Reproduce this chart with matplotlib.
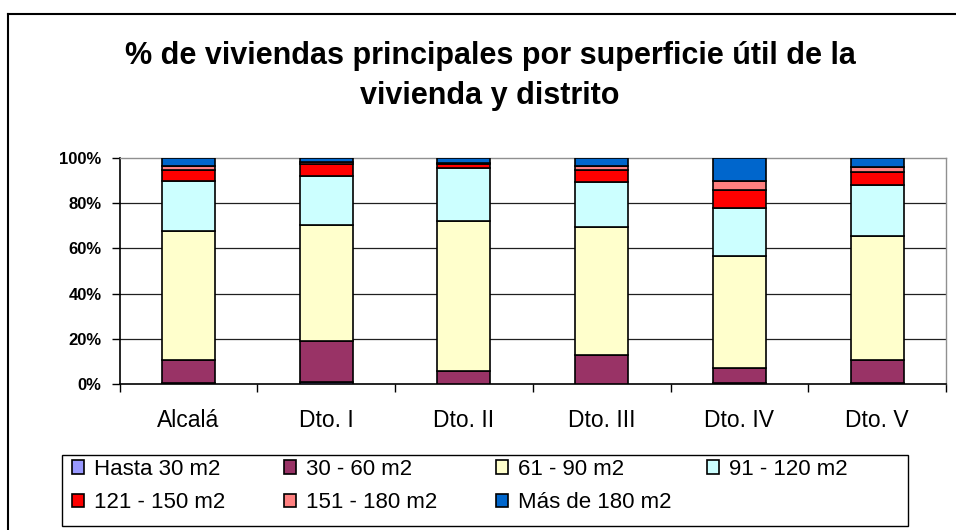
import matplotlib
matplotlib.use("Agg")
import matplotlib.pyplot as plt
from matplotlib.lines import Line2D
from matplotlib.patches import Rectangle
from matplotlib.ticker import FixedLocator, FuncFormatter
import numpy as np

plt.rcParams['font.family'] = ['Liberation Sans', 'DejaVu Sans']

categories = ["Alcalá", "Dto. I", "Dto. II", "Dto. III", "Dto. IV", "Dto. V"]
series_names = ["Hasta 30 m2", "30 - 60 m2", "61 - 90 m2", "91 - 120 m2",
                "121 - 150 m2", "151 - 180 m2", "Más de 180 m2"]
hasta_30 = [0.3, 1.0, 0.2, 0.2, 0.3, 0.3]
m30_60 = [10.5, 17.9, 5.7, 12.5, 6.8, 10.5]
m61_90 = [56.8, 51.6, 66.1, 56.8, 49.7, 54.5]
m91_120 = [22.1, 21.4, 23.6, 19.9, 21.1, 22.9]
m121_150 = [4.9, 5.4, 1.7, 5.4, 7.8, 5.6]
m151_180 = [1.8, 0.8, 0.5, 1.5, 4.3, 2.2]
mas_180 = [3.6, 1.9, 2.2, 3.7, 10.0, 4.0]
colors = ["#9999FF", "#993366", "#FFFFCC", "#CCFFFF", "#FF0000", "#FF8080", "#0066CC"]
yticks = [0, 20, 40, 60, 80, 100]

series = [hasta_30, m30_60, m61_90, m91_120, m121_150, m151_180, mas_180]

fig = plt.figure(figsize=(9.56, 5.30), dpi=100)
W, H = 956, 530
ax = fig.add_axes([119.5 / W, (H - 384) / H, (946 - 119.5) / W, (384 - 158) / H])

x = np.arange(len(categories))
bottom = np.zeros(len(categories))
handles = []
for vals, name, c in zip(series, series_names, colors):
    b = ax.bar(x, vals, bottom=bottom, width=0.385, color=c, edgecolor="black",
               linewidth=1.2, label=name, zorder=3)
    handles.append(b)
    bottom += np.array(vals)

ax.set_xlim(-0.5, len(categories) - 0.5)
ax.set_ylim(0, 100)
ax.set_yticks(yticks)
ax.yaxis.set_major_formatter(FuncFormatter(lambda v, p: f"{int(v)}%"))
ax.tick_params(axis="y", direction="out", length=6, width=1, pad=7, labelsize=12, colors="black")
for lab in ax.get_yticklabels():
    lab.set_fontweight("bold")
for v in yticks[1:-1]:
    ax.axhline(v, color="#202020", linewidth=0.9, zorder=1)

ax.set_xticks(x)
ax.set_xticklabels(categories, fontsize=16.5)
ax.tick_params(axis="x", which="major", length=0, pad=18)
ax.xaxis.set_minor_locator(FixedLocator(np.arange(-0.5, len(categories), 1.0)))
ax.tick_params(axis="x", which="minor", length=6, width=1, direction="out")

for s in ["left", "bottom"]:
    ax.spines[s].set_color("black")
    ax.spines[s].set_linewidth(1.2)
for s in ["top", "right"]:
    ax.spines[s].set_color("#909090")
    ax.spines[s].set_linewidth(1.0)

fig.text(490 / W, 1 - 76 / H, "% de viviendas principales por superficie útil de la\nvivienda y distrito",
         ha="center", va="center", fontsize=22, fontweight="bold", linespacing=1.45)

# legend frame
fig.add_artist(Rectangle((62 / W, (H - 526) / H), (908 - 62) / W, (526 - 455) / H,
                         transform=fig.transFigure, facecolor="white", edgecolor="black",
                         linewidth=1.0, zorder=0))
columns = [[0, 4], [1, 5], [2, 6], [3]]
col_x = [72, 284, 496, 707]
for idxs, cx in zip(columns, col_x):
    fig.legend([handles[i] for i in idxs], [series_names[i] for i in idxs],
               loc="upper left", bbox_to_anchor=(cx / W, 1 - 459 / H),
               fontsize=16, frameon=False, handlelength=0.55, handleheight=0.55,
               handletextpad=0.45, borderaxespad=0, borderpad=0, labelspacing=0.55)

# outer chart border
fig.add_artist(Line2D([8 / W, 1], [1 - 14 / H, 1 - 14 / H], color="black", linewidth=1.5))
fig.add_artist(Line2D([8 / W, 8 / W], [0, 1 - 14 / H], color="black", linewidth=1.5))

fig.savefig("out.png", dpi=100)
